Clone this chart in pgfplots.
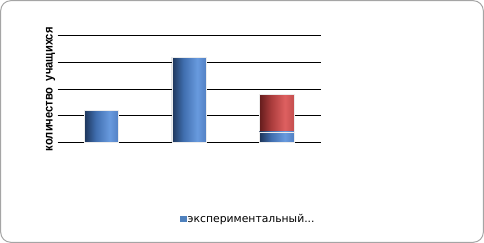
\documentclass[border=0pt]{standalone}
\usepackage{pgfplots}
\pgfplotsset{compat=1.18}
\usepackage{fontspec}
\setmainfont{Liberation Sans}
\newfontfamily\labelfont[FakeStretch=0.9]{Liberation Sans}
\newfontfamily\legendfont{DejaVu Sans}

\definecolor{bDark}{RGB}{28,52,88}
\definecolor{bMid}{RGB}{64,110,175}
\definecolor{bLight}{RGB}{104,154,222}
\definecolor{bEdge}{RGB}{82,128,195}
\definecolor{rDark}{RGB}{100,28,28}
\definecolor{rMid}{RGB}{170,60,60}
\definecolor{rLight}{RGB}{222,96,96}
\definecolor{rEdge}{RGB}{196,78,78}
\definecolor{frameGray}{RGB}{165,165,165}
\definecolor{legBlue}{RGB}{79,129,189}

% cylinder-like horizontal shadings for the bars
\pgfdeclarehorizontalshading{bluebar}{100bp}{color(0bp)=(bDark); color(25bp)=(bDark); color(42bp)=(bMid); color(62bp)=(bLight); color(75bp)=(bEdge); color(100bp)=(bEdge)}
\pgfdeclarehorizontalshading{redbar}{100bp}{color(0bp)=(rDark); color(25bp)=(rDark); color(42bp)=(rMid); color(62bp)=(rLight); color(75bp)=(rEdge); color(100bp)=(rEdge)}

\begin{document}
\begin{tikzpicture}
\useasboundingbox (0,0) rectangle (484pt,243pt);
\draw[frameGray, line width=1pt, rounded corners=10pt] (0.7pt,0.7pt) rectangle (483.3pt,242.3pt);
\begin{axis}[
  at={(57.5pt,100.3pt)}, anchor=south west,
  scale only axis, width=263pt, height=107pt,
  ybar, bar shift=0pt, bar width=34.5pt,
  xmin=-0.5, xmax=2.5, ymin=0, ymax=20,
  ytick={0,5,10,15,20}, xtick=\empty,
  yticklabels={}, tick style={draw=none},
  ymajorgrids, major grid style={black, line width=0.9pt},
  axis line style={draw=none},
  ylabel={\labelfont\bfseries\fontsize{12.4}{14}\selectfont количество\ \ учащихся},
  ylabel style={at={(axis description cs:-0.026,0.5)}, anchor=center},
  legend style={at={(axis description cs:0.725,-0.71)}, anchor=center, draw=none,
    font=\legendfont\fontsize{10.8}{12}\selectfont, legend cell align=left,
    nodes={inner xsep=1.5pt}},
  bluecol/.style={shade, shading=bluebar, draw=white!85!gray, line width=0.4pt, forget plot},
]
% one plot per column so that each column gets its own shading
\addplot[bluecol] coordinates {(0,6)};
\addplot[bluecol] coordinates {(1,16)};
% third column: control part 7 stacked on experimental part 2 (top at 9)
\addplot[shade, shading=redbar, draw=white!85!gray, line width=0.4pt, forget plot] coordinates {(2,9)};
\addplot[bluecol] coordinates {(2,2)};
\addlegendimage{legend image code/.code={\fill[legBlue] (0pt,-2.8pt) rectangle (5.5pt,2.8pt);}}
\addlegendentry{экспериментальный...}
\end{axis}
\end{tikzpicture}
\end{document}
